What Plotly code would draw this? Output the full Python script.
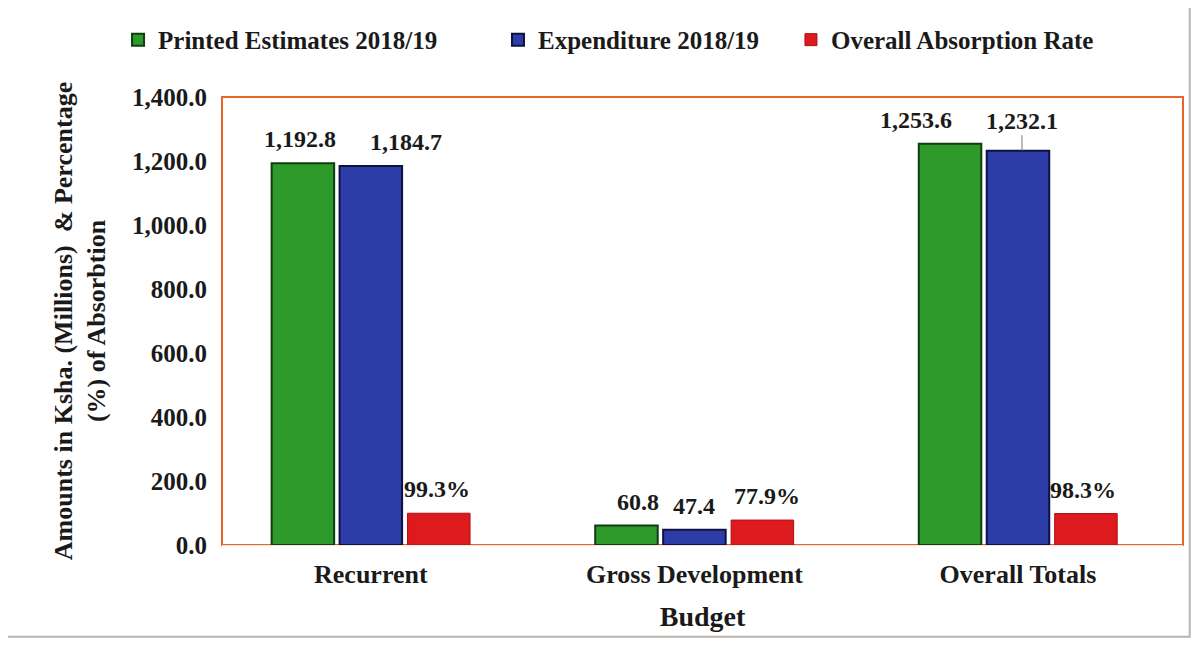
"""Budget absorption chart: printed estimates vs expenditure 2018/19."""

import plotly.graph_objects as go

categories = ["Recurrent", "Gross Development", "Overall Totals"]
printed_estimates = [1192.8, 60.8, 1253.6]
expenditure = [1184.7, 47.4, 1232.1]
absorption_rate = [99.3, 77.9, 98.3]

FONT = "Liberation Serif, Times New Roman, serif"
_BOLD = dict(family=FONT, weight="bold", color="#1a1a1a")

# géométrie (pixels) pour placer les étiquettes comme dans l'original
PLOT_W = 961
X_RANGE = [-0.46, 2.51]
BARGAP = 0.37
slot = PLOT_W / (X_RANGE[1] - X_RANGE[0]) * (1 - BARGAP) / 3
label_dx = [[-3, 12, -34], [35, 0, 4], [-2, 5, -3]]

series = [
    ("Printed Estimates 2018/19", printed_estimates, "#2f9a2c", "#0f3d10", "{:,.1f}"),
    ("Expenditure 2018/19", expenditure, "#2d3da8", "#0d1240", "{:,.1f}"),
    ("Overall Absorption Rate", absorption_rate, "#dd1a1e", "#b01014", "{:.1f}%"),
]

fig = go.Figure()
annotations = []
for i, (name, vals, color, edge, fmt) in enumerate(series):
    fig.add_trace(go.Bar(
        x=categories, y=vals, name=name,
        legend="legend" if i == 0 else f"legend{i + 1}",
        marker=dict(color=color, line=dict(color=edge, width=2 if i < 2 else 1)),
    ))
    for j, (cat, v) in enumerate(zip(categories, vals)):
        ann = dict(x=cat, y=v, text=fmt.format(v), font=dict(_BOLD, size=24),
                   xshift=(i - 1) * slot + label_dx[i][j], showarrow=False,
                   yanchor="bottom", yshift=9)
        if i == 1 and j == 2:
            # étiquette avec trait de rappel
            ann.update(showarrow=True, arrowhead=0, arrowwidth=1, arrowcolor="#777777",
                       ax=0, ay=-30, yanchor="middle", yshift=0, standoff=0)
        annotations.append(ann)

# cadre extérieur gris
fig.add_shape(type="rect", xref="paper", yref="paper",
              x0=-0.224, x1=1.007, y0=-0.205, y1=1.3,
              line=dict(color="#b8b4ae", width=2), layer="below")

_leg = dict(orientation="h", xref="container", yref="container",
            y=0.951, xanchor="left", yanchor="middle",
            font=dict(_BOLD, size=25), itemwidth=30, bgcolor="rgba(0,0,0,0)")

fig.update_layout(
    width=1191, height=651,
    margin=dict(l=214, r=16, t=89, b=114, autoexpand=False),
    paper_bgcolor="white", plot_bgcolor="white",
    barmode="group", bargap=BARGAP, bargroupgap=0.08,
    font=_BOLD, annotations=annotations,
    showlegend=True,
    legend=dict(_leg, x=0.0924),
    legend2=dict(_leg, x=0.4114),
    legend3=dict(_leg, x=0.6574),
    xaxis=dict(
        title=dict(text="Budget", font=dict(_BOLD, size=28), standoff=18),
        tickfont=dict(_BOLD, size=26), showline=True, linecolor="#f3e6dc",
        ticks="", ticklabelstandoff=6, automargin=False,
        range=X_RANGE,
    ),
    yaxis=dict(
        title=dict(text="Amounts in Ksha. (Millions)  & Percentage<br>(%) of Absorbtion",
                   font=dict(_BOLD, size=26), standoff=18),
        range=[0, 1400], dtick=200, tickformat=",.1f",
        tickfont=dict(_BOLD, size=25), showgrid=False, zeroline=False,
        ticks="", ticklabelstandoff=14, automargin=False,
    ),
)

# bordure orange de la zone de tracé
fig.add_shape(type="rect", xref="paper", yref="paper", x0=0, x1=1, y0=0, y1=1,
              line=dict(color="#e8642a", width=2), layer="below")

fig.write_html("out.html")
